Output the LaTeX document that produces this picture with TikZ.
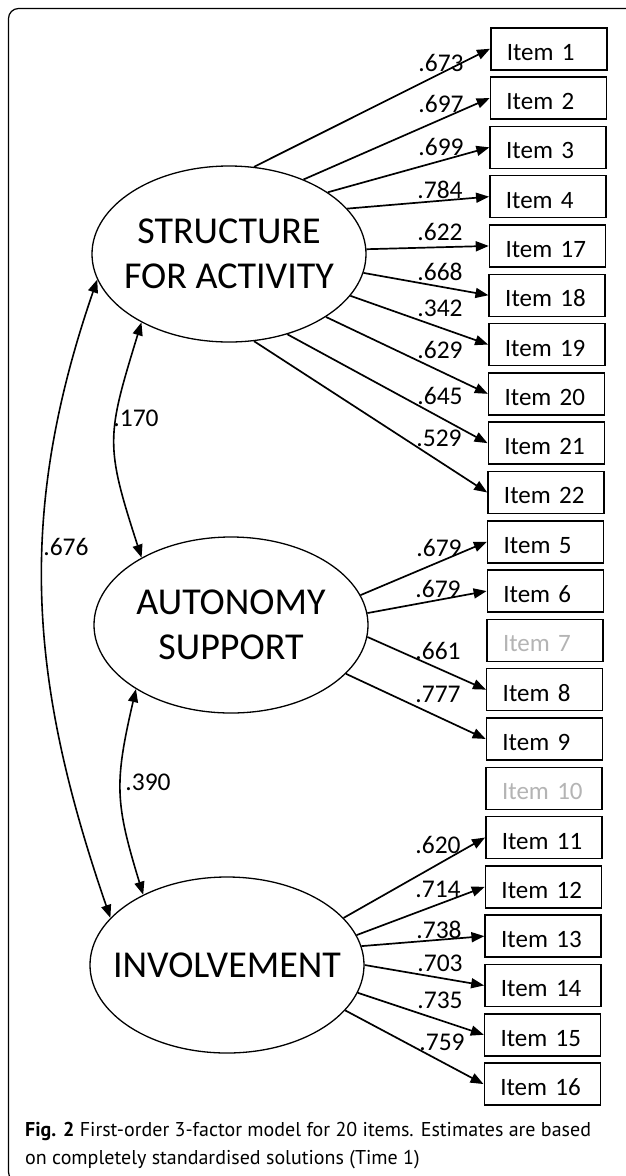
\documentclass[tikz,border=0pt]{standalone}
\usepackage{fontspec}
\setmainfont{Carlito}
\newfontfamily\capfont{PT Sans}
\usetikzlibrary{arrows.meta,shapes.geometric}
\definecolor{greytext}{HTML}{B4B4B4}
\begin{document}
\begin{tikzpicture}[x=1pt,y=-1pt,
  itembox/.style={draw, line width=1.5pt, anchor=north west, minimum width=116pt,
    minimum height=42pt, text width=84pt, inner xsep=16pt, inner ysep=0pt,
    align=left, text height=23pt, text depth=0pt, font=\fontsize{25}{30}\selectfont},
  factor/.style={ellipse, draw, line width=1.3pt, minimum width=274pt, minimum height=176pt,
    inner xsep=-25pt, inner ysep=0pt, align=center, font=\fontsize{38}{45}\selectfont},
  arr/.style={-{Triangle[length=13pt,width=10pt]}, line width=1.7pt},
  biarr/.style={{Triangle[length=13pt,width=10pt]}-{Triangle[length=13pt,width=10pt]}, line width=1.6pt},
  est/.style={inner sep=0pt, font=\fontsize{25.5}{30}\selectfont},
  captxt/.style={inner sep=0pt, anchor=base west, font=\capfont\fontsize{20}{24}\selectfont}
]
\useasboundingbox (0,0) rectangle (625,1176);
\fill[white] (0,0) rectangle (625,1176);
% frame
\draw[line width=1.2pt, rounded corners=10pt] (660,8.5) -- (8.5,8.5) -- (8.5,1182) -- (660,1182);

% item boxes
\foreach \n/\c [count=\k from 0] in {1/black,2/black,3/black,4/black,17/black,18/black,19/black,20/black,21/black,22/black,5/black,6/black,7/greytext,8/black,9/black,10/greytext,11/black,12/black,13/black,14/black,15/black,16/black}{
  \node[itembox, text=\c] (i\n) at ({490-6.5*\k/21},{27+49.3*\k}) {Item \n};
}

% factors
\node[factor] (S) at (229,254) {STRUCTURE\\FOR ACTIVITY};
\node[factor] (A) at (231,625) {AUTONOMY\\SUPPORT};
\node[factor] (I) at (227,965) {INVOLVEMENT};

% loadings: structure
\draw[arr] (S.74)   -- (i1.west);
\draw[arr] (S.45.8) -- (i2.west);
\draw[arr] (S.32.5) -- (i3.west);
\draw[arr] (S.21)   -- (i4.west);
\draw[arr] (S.2.5)  -- (i17.west);
\draw[arr] (S.-8.4) -- (i18.west);
\draw[arr] (S.-19)  -- (i19.west);
\draw[arr] (S.-33)  -- (i20.west);
\draw[arr] (S.-54)  -- (i21.west);
\draw[arr] (S.-74)  -- (i22.west);
% autonomy
\draw[arr] (A.13.7) -- (i5.west);
\draw[arr] (A.5.9)  -- (i6.west);
\draw[arr] (A.-5.5) -- (i8.west);
\draw[arr] (A.-23)  -- (i9.west);
% involvement
\draw[arr] (I.22)   -- (i11.west);
\draw[arr] (I.13.8) -- (i12.west);
\draw[arr] (I.8.4)  -- (i13.west);
\draw[arr] (I.0.4)  -- (i14.west);
\draw[arr] (I.-12)  -- (i15.west);
\draw[arr] (I.-21.5)-- (i16.west);

% covariances
\draw[biarr] (S.218) to[out=253,in=108,looseness=1.3] (A.143);
\draw[biarr] (S.191) to[out=251,in=109] (I.158);
\draw[biarr] (A.214) to[out=257,in=107,looseness=1.2] (I.140);

% estimates
\node[est] (e1)  at (441,63)  {.673};
\node[est] (e2)  at (441,104) {.697};
\node[est] (e3)  at (441,147) {.699};
\node[est] (e4)  at (440,190) {.784};
\node[est] (e17) at (440,232) {.622};
\node[est] (e18) at (440,272) {.668};
\node[est] (e19) at (440,308) {.342};
\node[est] (e20) at (440,350) {.629};
\node[est] (e21) at (440,396) {.645};
\node[est] (e22) at (439,438) {.529};
\node[est] (e5)  at (439,548) {.679};
\node[est] (e6)  at (438,589) {.679};
\node[est] (e8)  at (438,651) {.661};
\node[est] (e9)  at (438,694) {.777};
\node[est] (e11) at (438,845) {.620};
\node[est] (e12) at (438,889) {.714};
\node[est] (e13) at (439,930) {.738};
\node[est] (e14) at (440,963) {.703};
\node[est] (e15) at (440,1000) {.735};
\node[est] (e16) at (442,1042) {.759};
\node[est] (cSA) at (136,418) {.170};
\node[est] (cSI) at (66,547)  {.676};
\node[est] (cAI) at (148,782) {.390};

% caption
\node[captxt] (cap1) at (25,1136) {\textbf{Fig. 2} First-order 3-factor model for 20 items. Estimates are based};
\node[captxt] (cap2) at (25,1164) {on completely standardised solutions (Time 1)};
\end{tikzpicture}
\end{document}
